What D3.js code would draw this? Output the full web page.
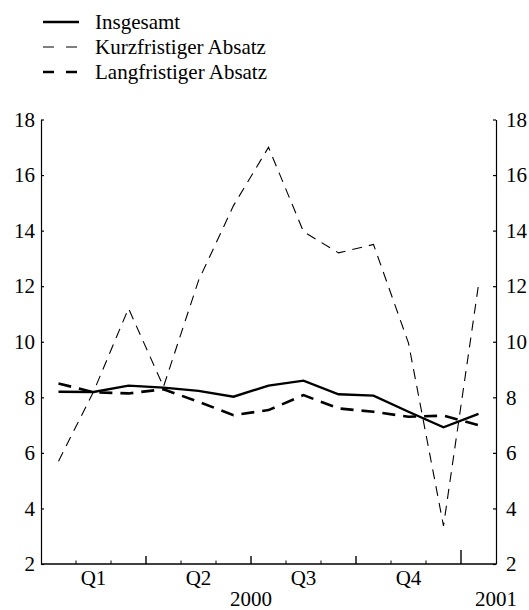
<!DOCTYPE html>
<html>
<head>
<meta charset="utf-8">
<script src="https://cdn.jsdelivr.net/npm/d3@7"></script>
<style>
  body { margin: 0; background: #fff; }
</style>
</head>
<body>
<svg width="529" height="610"></svg>
<script>
const months = ["2000-01","2000-02","2000-03","2000-04","2000-05","2000-06",
                "2000-07","2000-08","2000-09","2000-10","2000-11","2000-12","2001-01"]
const insgesamt = [8.2, 8.19, 8.42, 8.35, 8.23, 8.02, 8.42, 8.6, 8.11, 8.06, 7.48, 6.92, 7.4]
const kurzfristig = [5.7, 8.2, 11.2, 8.38, 12.2, 14.9, 17.0, 13.96, 13.2, 13.5, 9.95, 3.37, 12.05]
const langfristig = [8.5, 8.18, 8.14, 8.29, 7.84, 7.36, 7.54, 8.08, 7.6, 7.48, 7.3, 7.34, 7.0]
const quarterLabels = ["Q1", "Q2", "Q3", "Q4"]
const yearLabels = ["2000", "2001"]
const yTicks = [2, 4, 6, 8, 10, 12, 14, 16, 18]
const seriesNames = ["Insgesamt", "Kurzfristiger Absatz", "Langfristiger Absatz"]

const svg = d3.select("svg")
const fontSize = 21
const fontFamily = "'Liberation Serif', 'Times New Roman', Times, 'DejaVu Serif', serif"

const xScale = d3.scaleBand().domain(months).range([41, 496]).padding(0)
// month boundaries, 0..13
const edgeScale = d3.scaleLinear().domain([0, months.length]).range([41, 496])
const yScale = d3.scaleLinear().domain([2, 18]).range([564, 119.5])

const styles = [
    { width: 2.4, dash: null },
    { width: 1.1, dash: "10,7" },
    { width: 2.6, dash: "13,8" }
]

// y axes
const yLeft = d3.axisLeft(yScale).tickValues(yTicks).tickSizeInner(-3).tickSizeOuter(0).tickPadding(6)
const yRight = d3.axisRight(yScale).tickValues(yTicks).tickSizeInner(-3).tickSizeOuter(0).tickPadding(10)

svg.append("g").attr("id", "yLeftG").attr("transform", "translate(41,0)").call(yLeft)
svg.append("g").attr("id", "yRightG").attr("transform", "translate(496,0)").call(yRight)

svg.selectAll("#yLeftG, #yRightG")
    .attr("font-family", fontFamily)
    .attr("font-size", fontSize)
svg.selectAll("#yLeftG path, #yRightG path, #yLeftG line, #yRightG line")
    .attr("stroke", "#000").attr("stroke-width", 1.2)

// x axis line
svg.append("line")
    .attr("x1", edgeScale(0)).attr("x2", edgeScale(months.length))
    .attr("y1", yScale(2)).attr("y2", yScale(2))
    .attr("stroke", "#000").attr("stroke-width", 1.4)

// x ticks: monthly, quarterly, yearly
const edges = d3.range(1, months.length)
svg.append("g").selectAll("line")
    .data(edges)
    .enter()
    .append("line")
    .attr("x1", d => edgeScale(d)).attr("x2", d => edgeScale(d))
    .attr("y1", yScale(2))
    .attr("y2", d => yScale(2) - (d === 12 ? 14 : d % 3 === 0 ? 8 : 3.5))
    .attr("stroke", "#000")
    .attr("stroke-width", d => d % 3 === 0 ? 1.4 : 1)

svg.append("g").selectAll("text")
    .data(quarterLabels)
    .enter()
    .append("text")
    .attr("x", (d, i) => edgeScale(i * 3 + 1.5))
    .attr("y", 585)
    .attr("text-anchor", "middle")
    .attr("font-family", fontFamily)
    .attr("font-size", fontSize)
    .text(d => d)

svg.append("g").selectAll("text")
    .data(yearLabels)
    .enter()
    .append("text")
    .attr("x", (d, i) => i === 0 ? edgeScale(6) : edgeScale(13))
    .attr("y", 606)
    .attr("text-anchor", "middle")
    .attr("font-family", fontFamily)
    .attr("font-size", fontSize)
    .text(d => d)

// lines
const line = d3.line()
    .x((d, i) => xScale(months[i]) + xScale.bandwidth() / 2)
    .y(d => yScale(d))

svg.append("g")
    .selectAll("path")
    .data([insgesamt, kurzfristig, langfristig])
    .enter()
    .append("path")
    .attr("d", d => line(d))
    .attr("fill", "none")
    .attr("stroke", "#000")
    .attr("stroke-width", (d, i) => styles[i].width)
    .attr("stroke-dasharray", (d, i) => styles[i].dash)
    .attr("stroke-linejoin", "miter")

// legend
const legend = svg.append("g").attr("id", "legend")
seriesNames.forEach((name, i) => {
    const y = 22 + i * 25
    legend.append("line")
        .attr("x1", 43).attr("x2", 79)
        .attr("y1", y).attr("y2", y)
        .attr("stroke", "#000")
        .attr("stroke-width", styles[i].width)
        .attr("stroke-dasharray", styles[i].dash ? "11,12" : null)
    legend.append("text")
        .attr("x", 95).attr("y", y)
        .attr("dy", "0.35em")
        .attr("font-family", fontFamily)
        .attr("font-size", fontSize)
        .text(name)
})
</script>
</body>
</html>
